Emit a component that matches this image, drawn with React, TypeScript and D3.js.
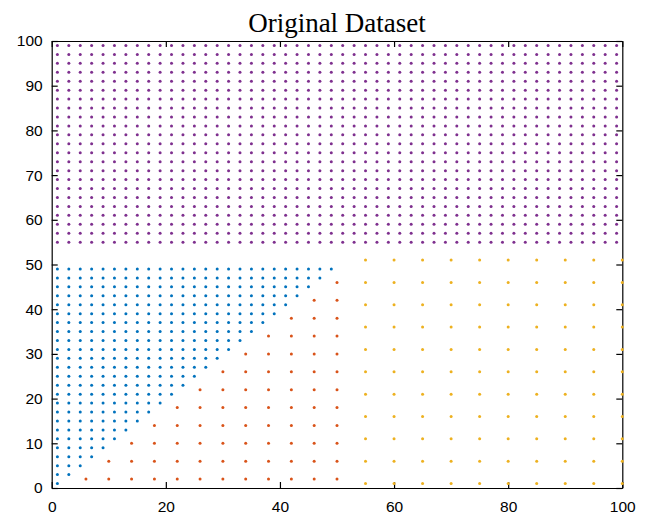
import React, { useEffect, useRef } from "react";
import * as d3 from "d3";

// grid values
const purpleX = [1, 3, 5, 7, 9, 11, 13, 15, 17, 19, 21, 23, 25, 27, 29, 31, 33, 35, 37, 39, 41, 43, 45, 47, 49, 51, 53, 55, 57, 59, 61, 63, 65, 67, 69, 71, 73, 75, 77, 79, 81, 83, 85, 87, 89, 91, 93, 95, 97, 99];
const purpleY = [55, 57, 59, 61, 63, 65, 67, 69, 71, 73, 75, 77, 79, 81, 83, 85, 87, 89, 91, 93, 95, 97, 99];
const blueVals = [1, 3, 5, 7, 9, 11, 13, 15, 17, 19, 21, 23, 25, 27, 29, 31, 33, 35, 37, 39, 41, 43, 45, 47, 49];
const redX = [6, 10, 14, 18, 22, 26, 30, 34, 38, 42, 46, 50];
const redY = [2, 6, 10, 14, 18, 22, 26, 30, 34, 38, 42, 46];
const yellowX = [55, 60, 65, 70, 75, 80, 85, 90, 95, 100];
const yellowY = [1, 6, 11, 16, 21, 26, 31, 36, 41, 46, 51];

const xTicks = [0, 20, 40, 60, 80, 100];
const yTicks = [0, 10, 20, 30, 40, 50, 60, 70, 80, 90, 100];

type Pt = [number, number];

const grid = (xs: number[], ys: number[], keep: (x: number, y: number) => boolean): Pt[] => {
  const out: Pt[] = [];
  ys.forEach((y) => xs.forEach((x) => { if (keep(x, y)) out.push([x, y]); }));
  return out;
};

const groups = [
  { color: "#7E2F8E", pts: grid(purpleX, purpleY, () => true) },
  { color: "#0072BD", pts: grid(blueVals, blueVals, (x, y) => x <= y) },
  { color: "#D95319", pts: grid(redX, redY, (x, y) => x > y) },
  { color: "#EDB120", pts: grid(yellowX, yellowY, () => true) },
];

const App = () => {
  const svgRef = useRef<SVGSVGElement>(null);

  useEffect(() => {
    const svg = d3.select(svgRef.current);
    svg.selectAll("*").remove();
    const width = 646;
    const height = 516;
    const margin = { top: 41, right: 23.7, bottom: 28, left: 51.7 };

    const x = d3.scaleLinear().domain([0, 100]).range([margin.left, width - margin.right]);
    const y = d3.scaleLinear().domain([0, 100]).range([height - margin.bottom, margin.top]);

    const font = "'Liberation Sans', Arial, sans-serif";

    // box axes with inward ticks
    const tick = 6;
    const bottom = svg.append("g").attr("transform", `translate(0,${y(0)})`)
      .call(d3.axisBottom(x).tickValues(xTicks).tickSizeInner(-tick).tickSizeOuter(0).tickPadding(13));
    const top = svg.append("g").attr("transform", `translate(0,${y(100)})`)
      .call(d3.axisTop(x).tickValues(xTicks).tickSizeInner(-tick).tickSizeOuter(0).tickFormat(() => ""));
    const left = svg.append("g").attr("transform", `translate(${x(0)},0)`)
      .call(d3.axisLeft(y).tickValues(yTicks).tickSizeInner(-tick).tickSizeOuter(0).tickPadding(9));
    const right = svg.append("g").attr("transform", `translate(${x(100)},0)`)
      .call(d3.axisRight(y).tickValues(yTicks).tickSizeInner(-tick).tickSizeOuter(0).tickFormat(() => ""));

    [bottom, top, left, right].forEach((a) => {
      a.selectAll("path").attr("stroke", "#000").attr("stroke-width", 1.2);
      a.selectAll("line").attr("stroke", "#000").attr("stroke-width", 1.2);
      a.selectAll("text").attr("font-family", font).attr("font-size", 15.5).attr("fill", "#000");
    });

    // points on top of the frame
    groups.forEach((g) => {
      svg
        .append("g")
        .selectAll("circle")
        .data(g.pts)
        .enter()
        .append("circle")
        .attr("cx", (d) => x(d[0]))
        .attr("cy", (d) => y(d[1]))
        .attr("r", 1.5)
        .attr("fill", g.color);
    });

    svg
      .append("text")
      .attr("x", (x(0) + x(100)) / 2)
      .attr("y", 31.5)
      .attr("text-anchor", "middle")
      .attr("font-family", "'Liberation Serif', 'Times New Roman', serif")
      .attr("font-size", 27)
      .text("Original Dataset");
  }, []);

  return (
    <svg
      ref={svgRef}
      width={646}
      height={516}
      style={{ position: "absolute", left: 0, top: 0, background: "#fff" }}
    />
  );
};

export default App;
